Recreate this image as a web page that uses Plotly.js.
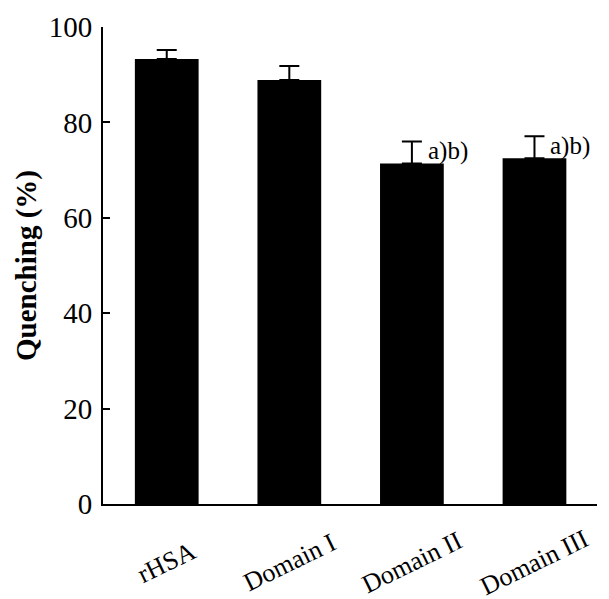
<!DOCTYPE html>
<html>
<head>
<meta charset="utf-8">
<script src="https://cdn.plot.ly/plotly-3.0.1.min.js"></script>
<style>html,body{margin:0;padding:0;background:#fff;}</style>
</head>
<body>
<div id="chart" style="width:609px;height:599px;"></div>
<script>
const categories = ["rHSA", "Domain I", "Domain II", "Domain III"];
const quenching = [93.3, 88.9, 71.4, 72.5];
const errors = [1.9, 2.9, 4.6, 4.6];
const marks = ["", "", "a)b)", "a)b)"];
const yTicks = [0, 20, 40, 60, 80, 100];

const serif = "Liberation Serif, Times New Roman, serif";

const trace = {
  type: "bar",
  x: categories,
  y: quenching,
  width: 0.52,
  marker: {color: "#000", line: {width: 0}},
  error_y: {
    type: "data",
    symmetric: false,
    array: errors,
    arrayminus: errors.map(() => 0),
    color: "#000",
    thickness: 2,
    width: 10
  },
  hoverinfo: "none"
};

const annotations = [];
categories.forEach((c, i) => {
  annotations.push({
    x: c, xref: "x", y: 0, yref: "y",
    yshift: -58,
    text: c, showarrow: false, textangle: -26,
    xanchor: "center", yanchor: "middle",
    font: {family: serif, size: 26, color: "#000"}
  });
  if (marks[i]) {
    annotations.push({
      x: c, xref: "x", y: quenching[i] + errors[i], yref: "y",
      xshift: 14, yshift: 6,
      text: marks[i], showarrow: false,
      xanchor: "left", yanchor: "top",
      font: {family: serif, size: 25, color: "#000"}
    });
  }
});

const layout = {
  width: 609, height: 599,
  margin: {l: 103, r: 12, t: 27, b: 95},
  paper_bgcolor: "#fff", plot_bgcolor: "#fff",
  showlegend: false,
  xaxis: {
    type: "category",
    range: [-0.52, 3.51],
    showline: true, linecolor: "#000", linewidth: 2,
    ticks: "", showticklabels: false,
    showgrid: false, zeroline: false, fixedrange: true
  },
  yaxis: {
    range: [0, 100],
    tickvals: yTicks,
    ticktext: yTicks.map(String),
    showline: true, linecolor: "#000", linewidth: 2,
    ticks: "inside", ticklen: 7, tickwidth: 2, tickcolor: "#000",
    ticklabelstandoff: 3,
    tickfont: {family: serif, size: 29, color: "#000"},
    showgrid: false, zeroline: false, fixedrange: true,
    title: {text: "<b>Quenching (%)</b>", font: {family: serif, size: 29, color: "#000"}, standoff: 4}
  },
  annotations: annotations
};

Plotly.newPlot("chart", [trace], layout, {displayModeBar: false, staticPlot: true});
</script>
</body>
</html>
